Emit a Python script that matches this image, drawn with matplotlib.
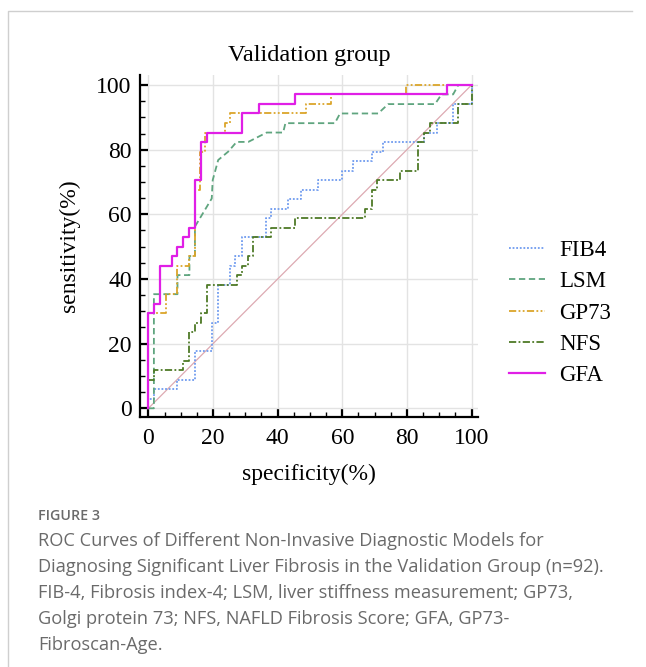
import matplotlib
matplotlib.use("Agg")
import matplotlib.pyplot as plt
from matplotlib.lines import Line2D
from matplotlib.ticker import MultipleLocator

# ---- data ----
labels = ["FIB4", "LSM", "GP73", "NFS", "GFA"]

fib4_x = [0, 0, 1.7, 1.7, 8.8, 8.8, 14.4, 14.4, 19.6, 19.6, 21.6, 21.6, 25.1, 25.1, 26.8, 26.8,
          28.9, 28.9, 36.3, 36.3, 37.9, 37.9, 43.3, 43.3, 47.2, 47.2, 52.6, 52.6, 59.8, 59.8,
          63.4, 63.4, 69.1, 69.1, 72.5, 72.5, 85.2, 85.2, 89.2, 89.2, 94.3, 94.3, 100, 100]
fib4_y = [0, 2.9, 2.9, 5.9, 5.9, 8.8, 8.8, 17.6, 17.6, 26.5, 26.5, 38.2, 38.2, 44.1, 44.1, 47.1,
          47.1, 52.9, 52.9, 58.8, 58.8, 61.8, 61.8, 64.7, 64.7, 67.6, 67.6, 70.6, 70.6, 73.5,
          73.5, 76.5, 76.5, 79.4, 79.4, 82.4, 82.4, 85.3, 85.3, 88.2, 88.2, 94.1, 94.1, 100]

lsm_x = [0, 1.7, 1.7, 9.0, 9.0, 12.7, 12.7, 14.4, 14.4, 19.6, 19.9, 21.6, 24.7, 27.3, 30.9,
         36.6, 41.7, 42.4, 57.7, 59.3, 71.1, 74.2, 88.7, 90.7, 94.3, 95.9, 100]
lsm_y = [0, 0, 35.3, 35.3, 41.2, 41.2, 47.1, 47.1, 56.2, 64.9, 70.6, 76.8, 79.4, 82.4, 82.4,
         85.3, 85.3, 88.2, 88.2, 91.2, 91.2, 94.1, 94.1, 97.1, 97.1, 100, 100]

gp73_x = [0, 0, 5.5, 5.5, 9.0, 9.0, 12.7, 12.7, 14.4, 14.4, 16.0, 16.0, 17.6, 17.6, 23.7, 23.7,
          25.3, 25.3, 48.8, 48.8, 56.4, 56.4, 79.7, 79.7, 100]
gp73_y = [0, 29.4, 29.4, 35.3, 35.3, 44.1, 44.1, 47.1, 47.1, 67.6, 67.6, 79.4, 79.4, 85.3, 85.3,
          88.2, 88.2, 91.2, 91.2, 94.1, 94.1, 97.1, 97.1, 100, 100]

nfs_x = [0, 0, 1.7, 1.7, 10.8, 10.8, 12.7, 12.7, 14.4, 14.4, 16.2, 16.2, 18.0, 18.0, 27.3, 27.3,
         28.9, 28.9, 30.7, 30.7, 32.5, 32.5, 37.9, 37.9, 45.4, 45.4, 67.0, 67.0, 69.1, 69.1,
         70.8, 70.8, 77.8, 77.8, 83.5, 83.5, 85.2, 85.2, 87.1, 87.1, 95.9, 95.9, 100, 100]
nfs_y = [0, 8.8, 8.8, 11.8, 11.8, 14.7, 14.7, 23.5, 23.5, 26.5, 26.5, 29.4, 29.4, 38.2, 38.2, 41.2,
         41.2, 44.1, 44.1, 47.1, 47.1, 52.9, 52.9, 55.9, 55.9, 58.8, 58.8, 61.8, 61.8, 67.6,
         67.6, 70.6, 70.6, 73.5, 73.5, 82.4, 82.4, 85.3, 85.3, 88.2, 88.2, 94.1, 94.1, 100]

gfa_x = [0, 0, 1.76, 1.76, 3.6, 3.6, 7.2, 7.2, 9.0, 9.0, 10.8, 10.8, 12.7, 12.7, 14.4, 14.4,
         16.2, 16.2, 18.0, 18.0, 28.9, 28.9, 34.3, 34.3, 45.4, 45.4, 92.5, 92.5, 100]
gfa_y = [0, 29.4, 29.4, 32.4, 32.4, 44.1, 44.1, 47.1, 47.1, 50.0, 50.0, 52.9, 52.9, 55.9, 55.9,
         70.6, 70.6, 82.4, 82.4, 85.3, 85.3, 91.2, 91.2, 94.1, 94.1, 97.1, 97.1, 100, 100]

ref_line = [0, 100]
ticks = [0, 20, 40, 60, 80, 100]

caption_head = "FIGURE 3"
caption_lines = [
    "ROC Curves of Different Non-Invasive Diagnostic Models for",
    "Diagnosing Significant Liver Fibrosis in the Validation Group (n=92).",
    "FIB-4, Fibrosis index-4; LSM, liver stiffness measurement; GP73,",
    "Golgi protein 73; NFS, NAFLD Fibrosis Score; GFA, GP73-",
    "Fibroscan-Age.",
]

# ---- figure ----
W, H = 646, 667
fig = plt.figure(figsize=(W / 100, H / 100), dpi=100)
serif = "Liberation Serif"

# light frame (top & left border of the panel)
fig.add_artist(Line2D([8 / W, 8 / W, 632 / W], [0, 1 - 11 / H, 1 - 11 / H],
                      transform=fig.transFigure, color="#cfcfcf", linewidth=1.0))

ax = fig.add_axes([140 / W, 1 - 416.7 / H, 338 / W, (416.7 - 75) / H])
ax.set_xlim(-2.6, 102)
ax.set_ylim(-2.6, 103.1)

styles = [
    dict(color="#6F9BEF", linestyle=(0, (1, 1)), linewidth=1.3),
    dict(color="#5FA57F", linestyle=(0, (3.5, 2)), linewidth=1.3),
    dict(color="#DBA52A", linestyle=(0, (4, 1.3, 1, 1.3, 1, 1.3)), linewidth=1.3),
    dict(color="#4E7A26", linestyle=(0, (4, 1.3, 1, 1.3)), linewidth=1.3),
    dict(color="#E01FE6", linestyle="-", linewidth=1.6),
]

ax.plot(ref_line, ref_line, color="#DDAAB2", linewidth=0.9, zorder=2)
data = [(fib4_x, fib4_y), (lsm_x, lsm_y), (gp73_x, gp73_y), (nfs_x, nfs_y), (gfa_x, gfa_y)]
order = [1, 0, 3, 2, 4]
for i in order:
    xs, ys = data[i]
    ax.plot(xs, ys, zorder=3 + i, **styles[i])

ax.set_xticks(ticks)
ax.set_yticks(ticks)
ax.xaxis.set_minor_locator(MultipleLocator(5))
ax.yaxis.set_minor_locator(MultipleLocator(5))
ax.grid(True, which="major", color="#e3e3e3", linewidth=1.0, zorder=0)
ax.set_axisbelow(True)
for s in ["top", "right"]:
    ax.spines[s].set_visible(False)
for s in ["left", "bottom"]:
    ax.spines[s].set_linewidth(1.6)
ax.tick_params(which="major", direction="in", length=6, width=1.6, labelsize=17)
ax.tick_params(axis="x", which="major", pad=8)
ax.tick_params(axis="y", which="major", pad=6)
ax.tick_params(which="minor", direction="in", length=3.5, width=1.0)
for lab in ax.get_xticklabels() + ax.get_yticklabels():
    lab.set_fontfamily(serif)

ax.set_xlabel("specificity(%)", fontfamily=serif, fontsize=17, labelpad=11)
ax.set_ylabel("sensitivity(%)", fontfamily=serif, fontsize=17, labelpad=12)
ax.set_title("Validation group", fontfamily=serif, fontsize=17.5, pad=10)

handles = [Line2D([0], [0], **styles[i]) for i in range(5)]
fig.legend(handles, labels, loc="upper left", bbox_to_anchor=(509 / W, 1 - 240 / H),
           frameon=False, prop={"family": serif, "size": 16.5}, handlelength=1.55,
           handletextpad=0.65, labelspacing=0.45, borderpad=0, borderaxespad=0)

cap_font = "Open Sans"
fig.text(38 / W, 1 - 516 / H, caption_head, fontfamily=cap_font, fontsize=10.3,
         color="#6a6a6a", va="center", ha="left", fontweight="semibold")
for k, line in enumerate(caption_lines):
    fig.text(38 / W, 1 - (541 + 26 * k) / H, line, fontfamily=cap_font, fontsize=13.15,
             color="#6a6a6a", va="center", ha="left")

fig.savefig("out.png", dpi=100)
